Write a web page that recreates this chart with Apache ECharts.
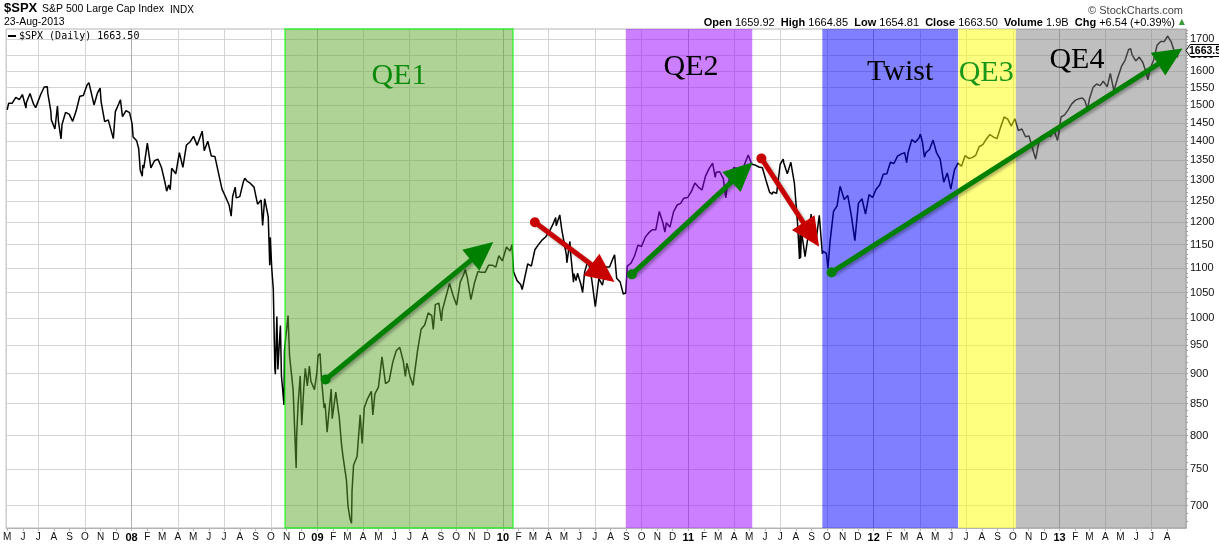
<!DOCTYPE html>
<html>
<head>
<meta charset="utf-8">
<script src="https://cdn.jsdelivr.net/npm/echarts@6/dist/echarts.min.js"></script>
<style>
html,body{margin:0;padding:0;background:#fff}
#c{width:1219px;height:544px}
</style>
</head>
<body>
<div id="c"></div>
<script>
// S&P 500 closes, [month-day, close]
const spx2007 = [['05-01',1486],['05-04',1505],['05-11',1505],['05-18',1522],['05-25',1515],['05-31',1530],['06-07',1491],['06-08',1507],['06-15',1533],['06-22',1502],['06-26',1492],['06-29',1503],['07-06',1530],['07-13',1552],['07-19',1553],['07-20',1534],['07-26',1482],['07-27',1458],['08-03',1433],['08-08',1497],['08-10',1453],['08-15',1406],['08-17',1445],['08-24',1479],['08-31',1474],['09-07',1454],['09-14',1484],['09-21',1525],['09-28',1527],['10-05',1557],['10-09',1565],['10-12',1561],['10-19',1500],['10-26',1535],['10-31',1549],['11-02',1509],['11-09',1453],['11-16',1458],['11-26',1407],['11-30',1481],['12-07',1504],['12-10',1515],['12-14',1467],['12-21',1484],['12-28',1478]];
const spx2008 = [['01-02',1447],['01-04',1411],['01-11',1401],['01-15',1380],['01-18',1325],['01-22',1310],['01-23',1338],['01-25',1330],['02-01',1395],['02-08',1331],['02-15',1349],['02-22',1353],['02-29',1331],['03-07',1293],['03-10',1273],['03-14',1288],['03-17',1277],['03-20',1330],['03-28',1316],['04-04',1370],['04-11',1332],['04-18',1390],['04-25',1398],['05-02',1413],['05-09',1389],['05-19',1427],['05-23',1375],['05-30',1400],['06-06',1361],['06-13',1360],['06-20',1318],['06-27',1278],['07-03',1262],['07-11',1240],['07-15',1214],['07-18',1261],['07-23',1283],['07-25',1257],['08-01',1260],['08-08',1296],['08-11',1305],['08-15',1298],['08-22',1292],['08-29',1283],['09-05',1242],['09-12',1252],['09-15',1193],['09-19',1255],['09-26',1213],['09-29',1106],['09-30',1166],['10-03',1099],['10-06',1056],['10-09',910],['10-10',899],['10-13',1003],['10-15',907],['10-17',940],['10-20',986],['10-22',896],['10-24',877],['10-27',848],['10-28',941],['10-31',968],['11-04',1005],['11-07',931],['11-14',873],['11-20',752],['11-21',800],['11-24',852],['11-28',896],['12-01',816],['12-05',876],['12-08',909],['12-12',879],['12-16',913],['12-19',887],['12-26',873],['12-31',903]];
const spx2009 = [['01-02',931],['01-06',935],['01-09',890],['01-14',843],['01-16',850],['01-20',805],['01-23',832],['01-28',874],['01-30',826],['02-06',869],['02-09',870],['02-13',827],['02-17',789],['02-20',770],['02-27',735],['03-02',700],['03-06',683],['03-09',677],['03-10',720],['03-13',756],['03-20',769],['03-26',832],['03-30',788],['04-03',843],['04-09',857],['04-17',870],['04-20',832],['04-24',866],['05-01',877],['05-08',929],['05-15',883],['05-22',887],['05-29',919],['06-05',940],['06-12',946],['06-19',921],['06-23',895],['06-26',918],['07-02',896],['07-08',880],['07-10',879],['07-17',940],['07-24',979],['07-31',987],['08-07',1010],['08-14',1005],['08-17',979],['08-21',1026],['08-28',1029],['09-02',995],['09-04',1016],['09-11',1042],['09-18',1068],['09-25',1044],['10-02',1025],['10-09',1071],['10-16',1087],['10-19',1097],['10-23',1080],['10-30',1036],['11-06',1069],['11-13',1093],['11-20',1091],['11-27',1091],['12-04',1106],['12-11',1106],['12-18',1102],['12-24',1126],['12-31',1115]];
const spx2010 = [['01-08',1145],['01-15',1136],['01-19',1150],['01-22',1092],['01-29',1074],['02-05',1066],['02-08',1056],['02-12',1075],['02-19',1109],['02-26',1104],['03-05',1139],['03-12',1150],['03-19',1160],['03-26',1167],['04-02',1178],['04-09',1194],['04-15',1211],['04-16',1192],['04-23',1217],['04-27',1183],['04-30',1187],['05-06',1128],['05-07',1111],['05-13',1157],['05-14',1136],['05-20',1071],['05-21',1088],['05-25',1074],['05-28',1089],['06-04',1065],['06-07',1050],['06-11',1092],['06-18',1117],['06-25',1076],['07-02',1022],['07-09',1078],['07-16',1065],['07-23',1102],['07-30',1102],['08-06',1121],['08-09',1128],['08-13',1079],['08-20',1071],['08-26',1047],['08-31',1049],['09-03',1104],['09-10',1110],['09-17',1125],['09-24',1149],['10-01',1146],['10-08',1166],['10-15',1176],['10-22',1183],['10-29',1183],['11-05',1225],['11-12',1199],['11-16',1178],['11-19',1199],['11-26',1189],['12-03',1224],['12-10',1240],['12-17',1244],['12-23',1256],['12-31',1258]];
const spx2011 = [['01-07',1272],['01-14',1293],['01-21',1283],['01-28',1276],['02-04',1310],['02-11',1329],['02-18',1343],['02-23',1307],['02-25',1320],['03-04',1321],['03-11',1304],['03-16',1257],['03-18',1279],['03-25',1314],['04-01',1332],['04-08',1328],['04-15',1320],['04-18',1305],['04-21',1337],['04-29',1364],['05-06',1340],['05-13',1338],['05-20',1333],['05-27',1331],['06-03',1300],['06-10',1271],['06-15',1266],['06-17',1271],['06-24',1268],['07-01',1340],['07-07',1353],['07-08',1344],['07-15',1316],['07-22',1345],['07-29',1292],['08-04',1200],['08-05',1199],['08-08',1119],['08-09',1172],['08-10',1121],['08-12',1179],['08-19',1124],['08-26',1177],['08-31',1219],['09-02',1174],['09-09',1154],['09-16',1216],['09-22',1130],['09-23',1136],['09-30',1131],['10-03',1099],['10-07',1155],['10-14',1225],['10-21',1238],['10-27',1285],['10-28',1285],['11-04',1253],['11-11',1263],['11-18',1216],['11-25',1159],['12-02',1244],['12-09',1255],['12-16',1219],['12-23',1265],['12-30',1258]];
const spx2012 = [['01-06',1278],['01-13',1289],['01-20',1315],['01-27',1316],['02-03',1345],['02-10',1342],['02-17',1361],['02-24',1366],['03-02',1370],['03-06',1344],['03-09',1371],['03-16',1404],['03-23',1397],['03-30',1408],['04-02',1419],['04-06',1398],['04-10',1358],['04-13',1370],['04-20',1378],['04-27',1403],['05-04',1369],['05-11',1353],['05-18',1295],['05-25',1318],['06-01',1278],['06-04',1278],['06-08',1325],['06-15',1343],['06-22',1335],['06-29',1362],['07-06',1355],['07-13',1357],['07-20',1363],['07-27',1386],['08-03',1391],['08-10',1406],['08-17',1418],['08-24',1411],['08-31',1407],['09-07',1438],['09-14',1466],['09-21',1460],['09-28',1441],['10-05',1461],['10-12',1429],['10-19',1433],['10-26',1412],['11-02',1414],['11-09',1380],['11-15',1353],['11-16',1360],['11-23',1409],['11-30',1416],['12-07',1418],['12-14',1413],['12-21',1430],['12-28',1402],['12-31',1426]];
const spx2013 = [['01-04',1466],['01-11',1472],['01-18',1486],['01-25',1503],['02-01',1513],['02-08',1518],['02-15',1520],['02-20',1512],['02-22',1516],['02-25',1488],['03-01',1518],['03-08',1551],['03-15',1561],['03-22',1556],['03-28',1569],['04-05',1553],['04-11',1593],['04-12',1588],['04-18',1541],['04-26',1582],['05-03',1614],['05-10',1633],['05-17',1667],['05-21',1669],['05-24',1650],['05-31',1631],['06-07',1643],['06-14',1626],['06-21',1593],['06-24',1573],['06-28',1606],['07-05',1632],['07-12',1680],['07-19',1692],['07-26',1692],['08-02',1710],['08-09',1691],['08-16',1656],['08-21',1642],['08-23',1663.5]];

// shaded policy periods
const regionNames = ['QE1', 'QE2', 'Twist', 'QE3', 'QE4'];
const regionStart = ['2008-10-29', '2010-08-31', '2011-09-22', '2012-06-16', '2012-10-07'];
const regionEnd   = ['2010-01-21', '2011-05-07', '2012-06-15', '2012-10-07', '2013-09-07'];

// trend arrows: start and end (date, price)
const arrowFrom  = [['2009-01-17', 890], ['2010-03-05', 1200], ['2010-09-12', 1087], ['2011-05-25', 1355], ['2011-10-10', 1091]];
const arrowTo    = [['2009-11-21', 1136], ['2010-07-17', 1089], ['2011-04-17', 1320], ['2011-08-31', 1172], ['2013-08-07', 1645]];
const arrowUp    = [true, false, true, false, true];

const yTicks = [700,750,800,850,900,950,1000,1050,1100,1150,1200,1250,1300,1350,1400,1450,1500,1550,1600,1650,1700];
const monthLetters = ['J','F','M','A','M','J','J','A','S','O','N','D'];

function ts(s) {
  const p = s.split('-').map(Number);
  return Date.UTC(p[0], p[1] - 1, p[2]);
}

const years = [[2007, spx2007], [2008, spx2008], [2009, spx2009], [2010, spx2010], [2011, spx2011], [2012, spx2012], [2013, spx2013]];
const lineData = [];
years.forEach(([y, rows]) => rows.forEach(r => lineData.push([ts(y + '-' + r[0]), r[1]])));

const xMin = Date.UTC(2007, 3, 29);
const xMax = Date.UTC(2013, 8, 7);

const monthTicks = [];
for (let y = 2007; y <= 2013; y++) {
  for (let m = 0; m < 12; m++) {
    const t = Date.UTC(y, m, 1);
    if (t >= Date.UTC(2007, 4, 1) && t <= Date.UTC(2013, 7, 1)) monthTicks.push(t);
  }
}
const quarterTicks = monthTicks.filter(t => new Date(t).getUTCMonth() % 3 === 0);
const minorY = [];
for (let v = 680; v <= 1730; v += 10) minorY.push(v);

const regionStyles = [
  { color: 'rgba(96,165,45,0.5)', borderColor: 'rgba(0,255,0,0.5)', borderWidth: 2, text: '#0a8a0a', dist: 33, dx: 0 },
  { color: 'rgba(153,0,255,0.5)', text: '#000', dist: 23, dx: 2 },
  { color: 'rgba(0,0,255,0.5)', text: '#000', dist: 28, dx: 10 },
  { color: 'rgba(255,255,0,0.5)', text: '#1a961a', dist: 29, dx: -1 },
  { color: 'rgba(128,128,128,0.5)', text: '#000', dist: 16, dx: -24 }
];

const areaData = regionNames.map((n, i) => {
  const s = regionStyles[i];
  return [
    {
      name: n, xAxis: ts(regionStart[i]),
      itemStyle: { color: s.color, borderColor: s.borderColor || 'transparent', borderWidth: s.borderWidth || 0 },
      label: { show: true, position: 'insideTop', distance: s.dist, offset: [s.dx, 0], color: s.text,
               fontFamily: 'Liberation Serif', fontSize: 30 }
    },
    { xAxis: ts(regionEnd[i]) }
  ];
});

const arrowData = arrowFrom.map((a, i) => {
  const col = arrowUp[i] ? '#008000' : '#c80000';
  return [
    { coord: [ts(a[0]), a[1]], symbol: 'circle', symbolSize: 10,
      lineStyle: { color: col, width: 5, type: 'solid', shadowBlur: 3, shadowColor: 'rgba(0,0,0,0.3)', shadowOffsetX: 2, shadowOffsetY: 2 } },
    { coord: [ts(arrowTo[i][0]), arrowTo[i][1]], symbol: 'triangle', symbolSize: [27, 29] }
  ];
});

const chart = echarts.init(document.getElementById('c'));
const font = 'Liberation Sans';

chart.setOption({
  animation: false,
  backgroundColor: '#fff',
  grid: { left: 4, right: 33, top: 29, bottom: 16, show: true, borderColor: '#b4b4b4', borderWidth: 1, backgroundColor: 'transparent' },
  xAxis: [
    {
      type: 'value', min: xMin, max: xMax, scale: true,
      axisLine: { show: true, onZero: false, lineStyle: { color: '#b4b4b4' } },
      axisTick: { show: true, length: 3, customValues: monthTicks, lineStyle: { color: '#b4b4b4' } },
      axisLabel: {
        customValues: monthTicks, margin: 4, color: '#111', fontFamily: font, fontSize: 10,
        formatter: function (v) {
          const d = new Date(v);
          const m = d.getUTCMonth();
          if (m === 0) return '{y|' + String(d.getUTCFullYear()).slice(2) + '}';
          return monthLetters[m];
        },
        rich: { y: { fontWeight: 'bold', fontSize: 11, fontFamily: font, color: '#000' } }
      },
      splitLine: { show: false }
    },
    {
      type: 'value', min: xMin, max: xMax, scale: true, position: 'bottom',
      axisLine: { show: false, onZero: false }, axisLabel: { show: false },
      axisTick: { show: false, customValues: quarterTicks },
      splitLine: { show: true, lineStyle: { color: ['#d4d4d4', '#d4d4d4', '#b0b0b0', '#d4d4d4'], width: 1 } }
    }
  ],
  yAxis: [
    {
      type: 'log', position: 'right', min: 671, max: 1733,
      axisLine: { show: true, lineStyle: { color: '#b4b4b4' } },
      axisTick: { show: true, length: 2, customValues: minorY, lineStyle: { color: '#a0a0a0' } },
      axisLabel: { customValues: yTicks, margin: 4, color: '#111', fontFamily: font, fontSize: 11,
                   formatter: v => String(Math.round(v)) },
      splitLine: { show: false }
    },
    {
      type: 'log', position: 'right', min: 671, max: 1733,
      axisLine: { show: false }, axisLabel: { show: false },
      axisTick: { show: false, customValues: yTicks },
      splitLine: { show: true, lineStyle: { color: '#d4d4d4', width: 1 } }
    }
  ],
  series: [
    {
      type: 'line', name: '$SPX', xAxisIndex: 0, yAxisIndex: 0, z: 2,
      data: lineData, showSymbol: false, symbol: 'none',
      lineStyle: { color: '#000', width: 1.5 },
      markArea: { silent: true, z: 4, data: areaData },
      markLine: { silent: true, z: 6, label: { show: false }, data: arrowData }
    }
  ],
  graphic: [
    { id: 'sym', type: 'text', z: 100, left: 4, top: 2, style: { text: '$SPX', font: 'bold 13px "Liberation Sans"', fill: '#000' } },
    { id: 'name', type: 'text', z: 100, left: 42, top: 4, style: { text: 'S&P 500 Large Cap Index', font: '10.5px "Liberation Sans"', fill: '#000' } },
    { id: 'exch', type: 'text', z: 100, left: 170, top: 5, style: { text: 'INDX', font: '10px "Liberation Sans"', fill: '#000' } },
    { id: 'date', type: 'text', z: 100, left: 4, top: 17, style: { text: '23-Aug-2013', font: '10.5px "Liberation Sans"', fill: '#000' } },
    { id: 'copy', type: 'text', z: 100, right: 36, top: 5, style: { text: '\u00a9 StockCharts.com', font: '11px "Liberation Sans"', fill: '#444' } },
    {
      id: 'quote', type: 'text', z: 100, right: 44, top: 17,
      style: {
        text: '{b|Open} 1659.92  {b|High} 1664.85  {b|Low} 1654.81  {b|Close} 1663.50  {b|Volume} 1.9B  {b|Chg} +6.54 (+0.39%)',
        font: '11px "Liberation Sans"', fill: '#000',
        rich: { b: { font: 'bold 11px "Liberation Sans"', fill: '#000' } }
      }
    },
    { id: 'up', type: 'text', z: 100, right: 34, top: 18, style: { text: '\u25B2', font: '8px "DejaVu Sans"', fill: '#3a9a3a' } },
    { id: 'legDash', type: 'rect', z: 100, left: 8, top: 35, shape: { width: 8, height: 2 }, style: { fill: '#000' } },
    { id: 'legText', type: 'text', z: 100, left: 19, top: 31, style: { text: '$SPX (Daily) 1663.50', font: '10px "DejaVu Sans Mono"', fill: '#000' } }
  ]
});

// last-price tag on the right axis
const last = lineData[lineData.length - 1];
const py = chart.convertToPixel({ xAxisIndex: 0, yAxisIndex: 0 }, last)[1];
chart.setOption({
  graphic: [
    { id: 'tagBox', type: 'polygon', z: 110, shape: { points: [[1186, py], [1190, py - 6], [1222, py - 6], [1222, py + 6], [1190, py + 6]] },
      style: { fill: '#fff', stroke: '#000', lineWidth: 1 } },
    { id: 'tagText', type: 'text', z: 111, x: 1189, y: py + 1,
      style: { text: String(last[1]), font: 'bold 10.5px "Liberation Sans"', fill: '#000', verticalAlign: 'middle' } }
  ]
});
</script>
</body>
</html>
